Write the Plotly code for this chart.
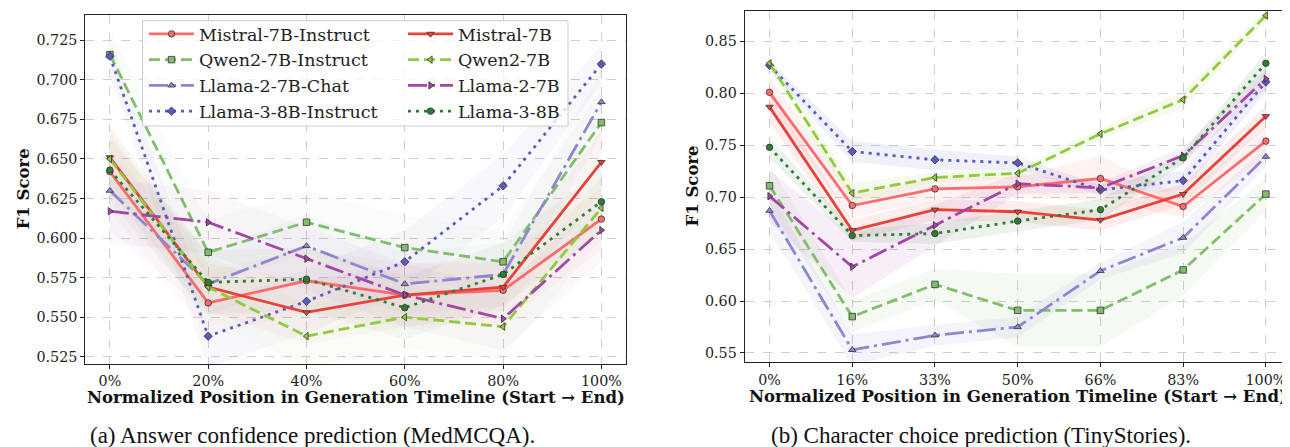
import plotly.graph_objects as go

# ---------------- data ----------------
x_labels_a = ["0%", "20%", "40%", "60%", "80%", "100%"]
x_labels_b = ["0%", "16%", "33%", "50%", "66%", "83%", "100%"]

series_names = ["Mistral-7B-Instruct", "Qwen2-7B-Instruct", "Llama-2-7B-Chat", "Llama-3-8B-Instruct",
                "Mistral-7B", "Qwen2-7B", "Llama-2-7B", "Llama-3-8B"]

# Panel (a): MedMCQA
a_mistral_inst = [0.642, 0.559, 0.573, 0.564, 0.567, 0.612]
a_qwen_inst = [0.716, 0.591, 0.610, 0.594, 0.585, 0.673]
a_llama2_chat = [0.630, 0.571, 0.595, 0.571, 0.577, 0.686]
a_llama3_inst = [0.715, 0.538, 0.560, 0.585, 0.633, 0.710]
a_mistral = [0.651, 0.569, 0.553, 0.564, 0.569, 0.648]
a_qwen = [0.650, 0.569, 0.538, 0.550, 0.544, 0.619]
a_llama2 = [0.617, 0.610, 0.587, 0.564, 0.549, 0.605]
a_llama3 = [0.643, 0.572, 0.574, 0.556, 0.577, 0.623]

a_mistral_inst_sd = [0.025, 0.020, 0.020, 0.020, 0.020, 0.020]
a_qwen_inst_sd = [0.015, 0.020, 0.020, 0.020, 0.020, 0.020]
a_llama2_chat_sd = [0.025, 0.020, 0.020, 0.020, 0.020, 0.020]
a_llama3_inst_sd = [0.010, 0.020, 0.020, 0.020, 0.020, 0.012]
a_mistral_sd = [0.020, 0.015, 0.020, 0.020, 0.015, 0.020]
a_qwen_sd = [0.020, 0.020, 0.020, 0.020, 0.020, 0.020]
a_llama2_sd = [0.020, 0.020, 0.020, 0.020, 0.020, 0.020]
a_llama3_sd = [0.020, 0.020, 0.020, 0.020, 0.020, 0.020]

# Panel (b): TinyStories
b_mistral_inst = [0.801, 0.692, 0.708, 0.710, 0.718, 0.691, 0.754]
b_qwen_inst = [0.711, 0.585, 0.616, 0.591, 0.591, 0.630, 0.703]
b_llama2_chat = [0.687, 0.553, 0.567, 0.575, 0.629, 0.661, 0.739]
b_llama3_inst = [0.827, 0.744, 0.736, 0.733, 0.707, 0.716, 0.811]
b_mistral = [0.787, 0.668, 0.688, 0.686, 0.678, 0.703, 0.778]
b_qwen = [0.829, 0.704, 0.719, 0.723, 0.761, 0.794, 0.875]
b_llama2 = [0.701, 0.633, 0.673, 0.713, 0.709, 0.740, 0.814]
b_llama3 = [0.748, 0.663, 0.665, 0.677, 0.688, 0.738, 0.829]

b_mistral_inst_sd = [0.015, 0.012, 0.010, 0.010, 0.022, 0.010, 0.015]
b_qwen_inst_sd = [0.020, 0.015, 0.015, 0.035, 0.035, 0.025, 0.015]
b_llama2_chat_sd = [0.020, 0.015, 0.010, 0.010, 0.008, 0.015, 0.010]
b_llama3_inst_sd = [0.005, 0.010, 0.010, 0.006, 0.005, 0.010, 0.010]
b_mistral_sd = [0.015, 0.010, 0.010, 0.010, 0.010, 0.010, 0.010]
b_qwen_sd = [0.005, 0.010, 0.005, 0.005, 0.005, 0.008, 0.006]
b_llama2_sd = [0.025, 0.030, 0.020, 0.010, 0.005, 0.008, 0.010]
b_llama3_sd = [0.010, 0.006, 0.010, 0.010, 0.010, 0.006, 0.010]

a_values = [a_mistral_inst, a_qwen_inst, a_llama2_chat, a_llama3_inst, a_mistral, a_qwen, a_llama2, a_llama3]
a_sds = [a_mistral_inst_sd, a_qwen_inst_sd, a_llama2_chat_sd, a_llama3_inst_sd, a_mistral_sd, a_qwen_sd, a_llama2_sd, a_llama3_sd]
b_values = [b_mistral_inst, b_qwen_inst, b_llama2_chat, b_llama3_inst, b_mistral, b_qwen, b_llama2, b_llama3]
b_sds = [b_mistral_inst_sd, b_qwen_inst_sd, b_llama2_chat_sd, b_llama3_inst_sd, b_mistral_sd, b_qwen_sd, b_llama2_sd, b_llama3_sd]

# ---------------- styles ----------------
colors = ["#ff6b6b", "#80bd6c", "#8e86d4", "#5a5abf", "#e8413a", "#8fcb3c", "#a445a8", "#2e7d32"]
symbols = ["circle", "square", "triangle-up", "diamond", "triangle-down", "triangle-left", "triangle-right", "circle"]
dashes = ["solid", "11px,5px", "19px,5px,3px,5px", "3px,5px", "solid", "11px,5px", "19px,5px,3px,5px", "3px,5px"]
legend_ids = ["legend"] * 4 + ["legend2"] * 4

W, H = 1290, 447
SERIF = "DejaVu Serif"


def rgba(hexc, a):
    h = hexc.lstrip("#")
    r, g, b = int(h[0:2], 16), int(h[2:4], 16), int(h[4:6], 16)
    return f"rgba({r},{g},{b},{a})"


fig = go.Figure()


def add_panel(values, sds, xaxis, yaxis, showlegend, band_alpha):
    n = len(values[0])
    xs = list(range(n))
    for i, (vals, sd) in enumerate(zip(values, sds)):
        upper = [v + s for v, s in zip(vals, sd)]
        lower = [v - s for v, s in zip(vals, sd)]
        fig.add_trace(go.Scatter(
            x=xs + xs[::-1], y=upper + lower[::-1], fill="toself",
            fillcolor=rgba(colors[i], band_alpha), line=dict(width=0),
            mode="lines", hoverinfo="skip", showlegend=False,
            xaxis=xaxis, yaxis=yaxis))
    for i, vals in enumerate(values):
        fig.add_trace(go.Scatter(
            x=xs, y=vals, mode="lines+markers", name=series_names[i],
            line=dict(color=colors[i], width=2.8, dash=dashes[i]),
            marker=dict(symbol=symbols[i], size=6.5, color=colors[i],
                        line=dict(color="#333333", width=0.8)),
            showlegend=showlegend, legend=legend_ids[i],
            xaxis=xaxis, yaxis=yaxis))


add_panel(a_values, a_sds, "x", "y", True, 0.045)
add_panel(b_values, b_sds, "x2", "y2", False, 0.09)

# panel geometry (pixels)
ax_l, ax_r, ax_t, ax_b = 77.3, 618.0, 6.7, 356.0
bx_l, bx_r, bx_t, bx_b = 736.7, 1282.7, 2.7, 354.3

tick_font = dict(family=SERIF, size=14.3, color="#222222")
common_axis = dict(showline=True, mirror=True, linecolor="#222222", linewidth=1.2,
                   ticks="outside", ticklen=4, tickwidth=1, tickcolor="#222222",
                   showgrid=True, gridcolor="#cfcfcf", griddash="dash", gridwidth=0.8,
                   zeroline=False, tickfont=tick_font)

fig.update_layout(
    width=W, height=H, margin=dict(l=0, r=0, t=0, b=0),
    paper_bgcolor="white", plot_bgcolor="white",
    xaxis=dict(domain=[ax_l / W, ax_r / W], anchor="y", range=[-0.25, 5.25],
               tickmode="array", tickvals=list(range(len(x_labels_a))), ticktext=x_labels_a, **common_axis),
    yaxis=dict(domain=[1 - ax_b / H, 1 - ax_t / H], anchor="x", range=[0.5204, 0.7412],
               tickmode="array", tickvals=[0.525, 0.55, 0.575, 0.6, 0.625, 0.65, 0.675, 0.7, 0.725],
               tickformat=".3f", **common_axis),
    xaxis2=dict(domain=[bx_l / W, bx_r / W], anchor="y2", range=[-0.3, 6.3],
                tickmode="array", tickvals=list(range(len(x_labels_b))), ticktext=x_labels_b, **common_axis),
    yaxis2=dict(domain=[1 - bx_b / H, 1 - bx_t / H], anchor="x2", range=[0.541, 0.8796],
                tickmode="array", tickvals=[0.55, 0.6, 0.65, 0.7, 0.75, 0.8, 0.85],
                tickformat=".2f", **common_axis),
    legend=dict(x=136 / W, y=1 - 8 / H, xanchor="left", yanchor="top",
                bgcolor="rgba(0,0,0,0)", borderwidth=0, itemwidth=45,
                font=dict(family=SERIF, size=17.5, color="#222222")),
    legend2=dict(x=395 / W, y=1 - 8 / H, xanchor="left", yanchor="top",
                 bgcolor="rgba(0,0,0,0)", borderwidth=0, itemwidth=45,
                 font=dict(family=SERIF, size=17.5, color="#222222")),
    showlegend=True,
)

# legend frame
fig.add_shape(type="rect", xref="paper", yref="paper",
              x0=134.5 / W, x1=560 / W, y0=1 - 118 / H, y1=1 - 12.7 / H,
              fillcolor="rgba(255,255,255,0.8)", line=dict(color="#cccccc", width=1), layer="above")

title_font = dict(family=SERIF, size=16.5, color="#111111", weight="bold")
xtitle = "Normalized Position in Generation Timeline (Start \u2192 End)"
cap_font = dict(family="Liberation Serif", size=23, color="#111111")
ann = [
    dict(text=xtitle, x=(ax_l + ax_r) / 2 / W, y=1 - 389.5 / H, font=title_font,
         xanchor="center", yanchor="middle"),
    dict(text=xtitle, x=(bx_l + bx_r) / 2 / W, y=1 - 388.5 / H, font=title_font,
         xanchor="center", yanchor="middle"),
    dict(text="F1 Score", x=15 / W, y=1 - (ax_t + ax_b) / 2 / H, textangle=-90, font=title_font,
         xanchor="center", yanchor="middle"),
    dict(text="F1 Score", x=684 / W, y=1 - (bx_t + bx_b) / 2 / H, textangle=-90, font=title_font,
         xanchor="center", yanchor="middle"),
    dict(text="(a) Answer confidence prediction (MedMCQA).", x=80 / W, y=0, yshift=5,
         xanchor="left", yanchor="bottom", font=cap_font),
    dict(text="(b) Character choice prediction (TinyStories).", x=761 / W, y=0, yshift=5,
         xanchor="left", yanchor="bottom", font=cap_font),
]
for a in ann:
    fig.add_annotation(xref="paper", yref="paper", showarrow=False, **a)

fig.write_html("out.html")
